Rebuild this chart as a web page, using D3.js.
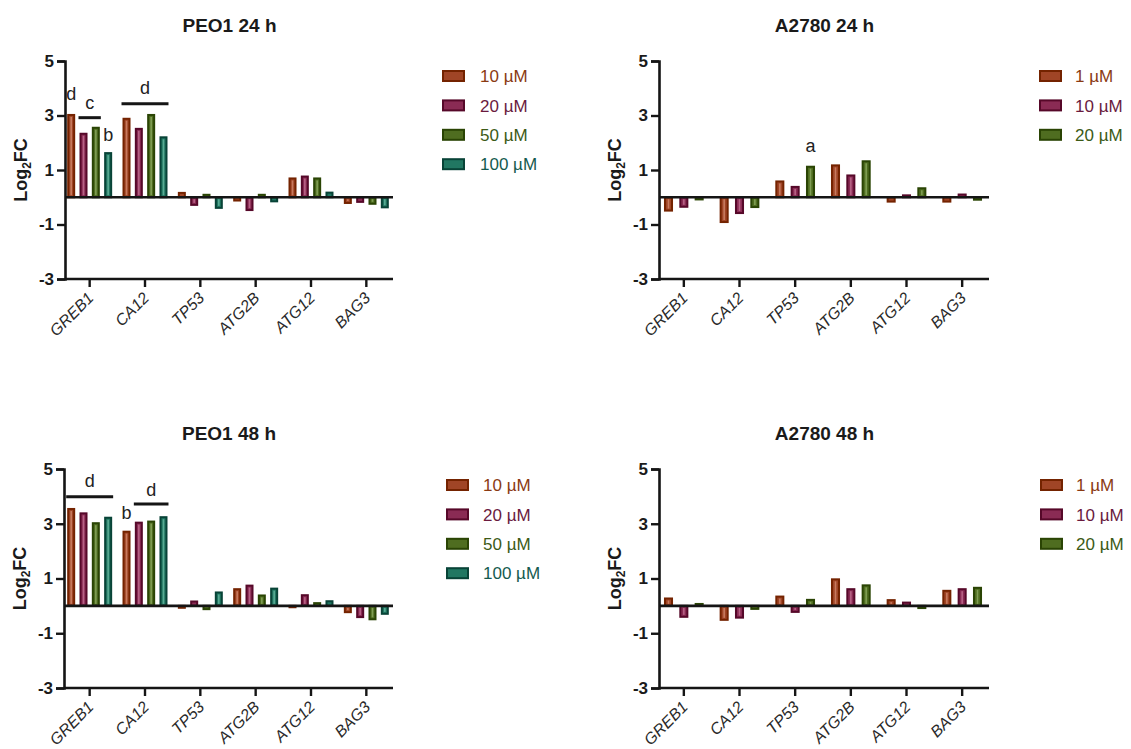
<!DOCTYPE html>
<html>
<head>
<meta charset="utf-8">
<script src="https://cdn.jsdelivr.net/npm/d3@7"></script>
<style>
  body { margin: 0; background: #fff; }
  svg { font-family: Arial, "Liberation Sans", sans-serif; }
</style>
</head>
<body>
<svg width="1131" height="749"></svg>
<script>
//Data (gene order below)
const genes = ["GREB1", "CA12", "TP53", "ATG2B", "ATG12", "BAG3"];
const peoDoses = ["10 µM", "20 µM", "50 µM", "100 µM"];
const a2780Doses = ["1 µM", "10 µM", "20 µM"];
const yTicks = [5, 3, 1, -1, -3];

//PEO1 24 h
const peo24_10 = [3.02, 2.88, 0.16, -0.12, 0.69, -0.21];
const peo24_20 = [2.33, 2.51, -0.28, -0.47, 0.76, -0.17];
const peo24_50 = [2.55, 3.02, 0.09, 0.09, 0.69, -0.24];
const peo24_100 = [1.62, 2.20, -0.39, -0.15, 0.17, -0.37];
//A2780 24 h
const a24_1 = [-0.49, -0.91, 0.58, 1.17, -0.16, -0.16];
const a24_10 = [-0.35, -0.58, 0.38, 0.80, 0.07, 0.10];
const a24_20 = [-0.08, -0.36, 1.12, 1.32, 0.33, -0.09];
//PEO1 48 h
const peo48_10 = [3.54, 2.71, -0.07, 0.61, -0.05, -0.23];
const peo48_20 = [3.38, 3.04, 0.16, 0.74, 0.39, -0.41];
const peo48_50 = [3.02, 3.08, -0.12, 0.38, 0.10, -0.49];
const peo48_100 = [3.22, 3.24, 0.49, 0.63, 0.17, -0.29];
//A2780 48 h
const a48_1 = [0.27, -0.51, 0.34, 0.97, 0.21, 0.55];
const a48_10 = [-0.40, -0.43, -0.22, 0.61, 0.12, 0.61];
const a48_20 = [0.07, -0.11, 0.22, 0.75, -0.08, 0.66];

//Significance letters: bars from..to (dose index), line height and letter height in Log2FC units
const peo24Notes = [
  {gene: "GREB1", from: 0, to: 0, line: null, text: 3.57, label: "d"},
  {gene: "GREB1", from: 1, to: 2, line: 2.92, text: 3.24, label: "c"},
  {gene: "GREB1", from: 3, to: 3, line: null, text: 2.05, label: "b"},
  {gene: "CA12", from: 0, to: 3, line: 3.43, text: 3.80, label: "d"}
];
const a24Notes = [
  {gene: "TP53", from: 2, to: 2, line: null, text: 1.65, label: "a"}
];
const peo48Notes = [
  {gene: "GREB1", from: 0, to: 3, line: 3.99, text: 4.33, label: "d"},
  {gene: "CA12", from: 0, to: 0, line: null, text: 3.16, label: "b"},
  {gene: "CA12", from: 1, to: 3, line: 3.72, text: 4.02, label: "d"}
];
const a48Notes = [];

//Colours per dose slot
const darks = ["#742300", "#560829", "#2a4404", "#084337"];
const mids = ["#a04526", "#8a2b54", "#4f6d20", "#217762"];
const lights = ["#d48c72", "#c57596", "#90ad66", "#6cbca4"];
const legendInk = ["#8a3a12", "#6a1a3e", "#3c5a16", "#145a4e"];

const svg = d3.select("svg");

function drawPanel(cfg){
  const g = svg.append("g");
  const doses = cfg.doses;

  const x = d3.scaleBand().domain(genes).range([cfg.x0, cfg.x1]);
  const y = d3.scaleLinear().domain([-3, 5]).range([cfg.yBottom, cfg.yTop]);
  const x1 = d3.scaleBand().domain(d3.range(doses.length))
               .range([0, x.bandwidth()])
               .paddingInner(cfg.pIn).paddingOuter(cfg.pOut);

  //Bars
  cfg.series.forEach((vals, si) => {
    vals.forEach((v, gi) => {
      const bx = x(genes[gi]) + x1(si);
      const bw = x1.bandwidth();
      const top = y(Math.max(0, v));
      const h = Math.abs(y(v) - y(0));
      g.append("rect")
        .attr("x", bx + 1).attr("y", top)
        .attr("width", bw - 2).attr("height", h)
        .attr("fill", mids[si])
        .attr("stroke", darks[si]).attr("stroke-width", 2);
      if (h > 5) {
        g.append("rect")
          .attr("x", bx + bw / 2 - 0.8).attr("y", top + 2)
          .attr("width", 1.6).attr("height", h - 4)
          .attr("fill", lights[si]).attr("opacity", 0.75);
      }
    });
  });

  //Zero line
  g.append("line")
    .attr("x1", cfg.axisX).attr("x2", cfg.x1 - 1)
    .attr("y1", y(0)).attr("y2", y(0))
    .attr("stroke", "#151515").attr("stroke-width", 2.6);

  //Y axis
  const yAxis = g.append("g")
    .attr("transform", "translate(" + cfg.axisX + ",0)")
    .call(d3.axisLeft(y).tickValues(yTicks).tickSize(8).tickPadding(3).tickFormat((d) => String(d)))
    .attr("font-family", null).attr("font-size", null);
  yAxis.select(".domain").attr("stroke", "#151515").attr("stroke-width", 2.6);
  yAxis.selectAll(".tick line").attr("stroke", "#151515").attr("stroke-width", 2.4);
  yAxis.selectAll("text").attr("fill", "#1a1a1a").style("font-size", "17px").style("font-weight", "bold");

  //X axis
  const xAxis = g.append("g")
    .attr("transform", "translate(0," + cfg.yBottom + ")")
    .call(d3.axisBottom(x).tickSize(8).tickSizeOuter(0))
    .attr("font-family", null).attr("font-size", null);
  xAxis.select(".domain").attr("stroke", "#151515").attr("stroke-width", 2.6)
    .attr("d", "M" + cfg.axisX + ",0H" + (cfg.x1 - 1));
  xAxis.selectAll(".tick line").attr("stroke", "#151515").attr("stroke-width", 2.4);
  xAxis.selectAll("text")
    .attr("fill", "#2a2a2a")
    .style("font-size", "16px").style("font-style", "italic")
    .style("text-anchor", "end")
    .attr("x", 0).attr("y", 0).attr("dy", 0)
    .attr("transform", "translate(5,20) rotate(-45)");

  //Y label
  const lab = g.append("text")
    .attr("transform", "translate(" + (cfg.axisX - 38) + "," + ((cfg.yTop + cfg.yBottom) / 2) + ") rotate(-90)")
    .attr("text-anchor", "middle")
    .attr("fill", "#1a1a1a")
    .style("font-size", "18px").style("font-weight", "bold");
  lab.append("tspan").text("Log");
  lab.append("tspan").attr("dy", 4).style("font-size", "12px").text("2");
  lab.append("tspan").attr("dy", -4).text("FC");

  //Title
  g.append("text")
    .attr("x", (cfg.axisX + cfg.x1) / 2).attr("y", cfg.yTop - 29)
    .attr("text-anchor", "middle").attr("fill", "#1a1a1a")
    .style("font-size", "19px").style("font-weight", "bold")
    .text(cfg.title);

  //Significance letters
  cfg.notes.forEach((n) => {
    const left = x(n.gene) + x1(n.from);
    const right = x(n.gene) + x1(n.to) + x1.bandwidth();
    if (n.line !== null) {
      g.append("line")
        .attr("x1", left - 1).attr("x2", right + 1)
        .attr("y1", y(n.line)).attr("y2", y(n.line))
        .attr("stroke", "#151515").attr("stroke-width", 3);
    }
    g.append("text")
      .attr("x", (left + right) / 2).attr("y", y(n.text))
      .attr("text-anchor", "middle").attr("fill", "#222")
      .style("font-size", "18px")
      .text(n.label);
  });

  //Legend
  const leg = g.append("g").attr("transform", "translate(" + cfg.legX + "," + cfg.legY + ")");
  doses.forEach((d, i) => {
    const row = leg.append("g").attr("transform", "translate(0," + (i * 29.4) + ")");
    row.append("rect")
      .attr("x", 1).attr("y", -5).attr("width", 21).attr("height", 10)
      .attr("fill", mids[i]).attr("stroke", darks[i]).attr("stroke-width", 2);
    row.append("text")
      .attr("x", cfg.legTextDx).attr("y", 0).attr("dy", "0.36em")
      .attr("fill", legendInk[i])
      .style("font-size", "17px")
      .text(d);
  });
}

drawPanel({title: "PEO1 24 h", doses: peoDoses, series: [peo24_10, peo24_20, peo24_50, peo24_100],
  notes: peo24Notes, axisX: 65, x0: 62, x1: 394, yTop: 61, yBottom: 279,
  pIn: 0.35, pOut: 0.42, legX: 442, legY: 76, legTextDx: 38});
drawPanel({title: "A2780 24 h", doses: a2780Doses, series: [a24_1, a24_10, a24_20],
  notes: a24Notes, axisX: 659, x0: 656, x1: 990, yTop: 61, yBottom: 279,
  pIn: 0.41, pOut: 0.52, legX: 1039, legY: 76, legTextDx: 36});
drawPanel({title: "PEO1 48 h", doses: peoDoses, series: [peo48_10, peo48_20, peo48_50, peo48_100],
  notes: peo48Notes, axisX: 64, x0: 62, x1: 394, yTop: 469, yBottom: 688,
  pIn: 0.35, pOut: 0.42, legX: 446, legY: 485, legTextDx: 37});
drawPanel({title: "A2780 48 h", doses: a2780Doses, series: [a48_1, a48_10, a48_20],
  notes: a48Notes, axisX: 659, x0: 656, x1: 990, yTop: 469, yBottom: 688,
  pIn: 0.41, pOut: 0.52, legX: 1040, legY: 485, legTextDx: 36});
</script>
</body>
</html>
